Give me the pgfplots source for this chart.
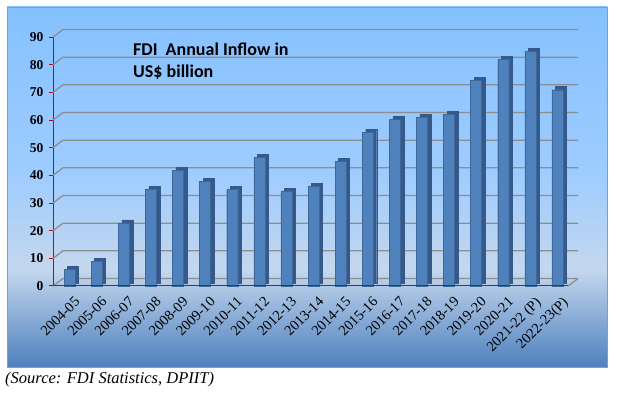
\documentclass[border=0pt]{standalone}
\usepackage{pgfplots}
\pgfplotsset{compat=1.18}
\usepackage{fontspec}
\setmainfont{Liberation Serif}
\newfontfamily\calibri{Carlito}
\definecolor{barfront}{HTML}{4F81BD}
\definecolor{barside}{HTML}{34598A}
\definecolor{gridc}{HTML}{8E8E8E}
\definecolor{bgtop}{HTML}{85C1FF}
\definecolor{bgmid}{HTML}{9ECCFF}
\definecolor{bglight}{HTML}{C4D7EE}
\definecolor{bgbot}{HTML}{4E80BD}
\pgfdeclareverticalshading{chartbg}{100bp}{color(0bp)=(bgbot); color(25bp)=(bgbot); color(38.5bp)=(bglight); color(52bp)=(bgmid); color(75bp)=(bgtop); color(100bp)=(bgtop)}
\pgfplotstableread{
x y
0 6.05
1 8.96
2 22.83
3 34.84
4 41.87
5 37.75
6 34.85
7 46.55
8 34.30
9 36.05
10 45.15
11 55.56
12 60.22
13 60.97
14 62.00
15 74.39
16 81.97
17 84.84
18 70.97
}\fdi
\begin{document}
\begin{tikzpicture}
\fill[white] (0pt,0pt) rectangle (617pt,393pt);
\shade[shading=chartbg] (7pt,26pt) rectangle (607pt,386pt);
\draw[gray!80, line width=0.8pt] (7pt,26pt) rectangle (607pt,386pt);
\begin{axis}[
  at={(53pt,107pt)}, anchor=south west,
  scale only axis, width=515pt, height=249pt,
  xmin=-0.5, xmax=18.5, ymin=0, ymax=90,
  clip=false,
  axis x line*=bottom, axis y line*=left,
  axis line style={red!80!black, line width=1pt},
  /pgf/number format/assume math mode=true,
  ytick={0,10,...,90},
  tick align=outside, major tick length=4pt,
  ytick style={red!80!black, line width=1pt},
  yticklabel style={font=\fontsize{13.5}{13.5}\selectfont\bfseries, xshift=-2pt},
  xtick={0,...,18},
  xticklabels={2004-05,2005-06,2006-07,2007-08,2008-09,2009-10,2010-11,2011-12,2012-13,2013-14,2014-15,2015-16,2016-17,2017-18,2018-19,2019-20,2020-21,2021-22 (P),2022-23(P)},
  xtick style={draw=none},
  xticklabel style={font=\fontsize{14.5}{14.5}\selectfont, rotate=45, anchor=north east, xshift=2pt, yshift=-8pt, inner sep=1pt},
  extra x ticks={-0.5,0.5,...,18.5},
  extra x tick labels={},
  extra x tick style={draw=red!80!black, line width=1pt, major tick length=5pt},
]
\pgfplotsinvokeforeach{0,10,...,90}{
  \draw[gridc, line width=1.3pt] (axis cs:-0.5,#1) -- ++(10pt,7.5pt) -- ([xshift=10pt,yshift=7.5pt]axis cs:18.5,#1);
}
\draw[gridc, line width=1.3pt] (axis cs:18.5,0) -- ++(10pt,7.5pt);
\addplot[ybar, bar width=11pt, bar shift=6.5pt, fill=barside, draw=barside, yshift=3pt] table[x=x,y=y]{\fdi};
\addplot[ybar, bar width=11pt, bar shift=3pt, fill=barfront, draw=barfront!80!black, line width=0.3pt] table[x=x,y=y]{\fdi};
\draw[red!80!black, line width=1pt] (axis cs:-0.5,0) -- (axis cs:18.5,0);
\end{axis}
\node[anchor=base west, font=\calibri\bfseries\fontsize{18}{18}\selectfont, inner sep=0pt] at (133pt,337pt) {FDI\ \ Annual Inflow in};
\node[anchor=base west, font=\calibri\bfseries\fontsize{18}{18}\selectfont, inner sep=0pt] at (133pt,315pt) {US\$ billion};
\node[anchor=base west, font=\itshape\fontsize{16.5}{16.5}\selectfont, inner sep=0pt] at (5pt,10pt) {(Source: FDI Statistics, DPIIT)};
\end{tikzpicture}
\end{document}
